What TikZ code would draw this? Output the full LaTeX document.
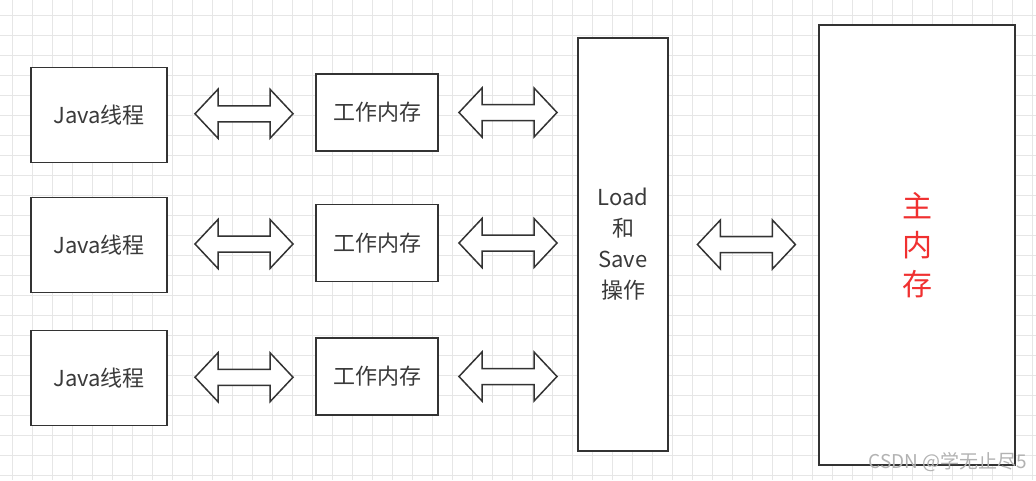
\documentclass[tikz,border=0pt]{standalone}
\usepackage{fontspec}
\setmainfont{Noto Sans CJK SC}
\usetikzlibrary{calc}
\definecolor{boxc}{HTML}{333333}
\definecolor{txtc}{HTML}{3A3A3A}
\definecolor{gridc}{HTML}{E6E6E6}
\definecolor{redc}{HTML}{F03030}
\begin{document}
\begin{tikzpicture}[x=1pt,y=-1pt,
  box/.style={draw=boxc, line width=1.8pt, fill=white, inner sep=0pt, align=center, text=txtc, font=\fontsize{22}{31}\selectfont},
  jbox/.style={box, minimum width=136pt, minimum height=95pt},
  wbox/.style={box, minimum width=122pt, minimum height=77pt},
  gridline/.style={draw=gridc, line width=0.8pt},
  pics/dblarr/.style={code={
    \draw[draw=boxc, line width=1.5pt, fill=white, line join=miter]
      (-49,0) -- (-26,-24.5) -- (-26,-8) -- (26,-8) -- (26,-24.5) -- (49,0)
      -- (26,24.5) -- (26,8) -- (-26,8) -- (-26,24.5) -- cycle;}}]
\useasboundingbox (0,0) rectangle (1036,480);
\fill[white] (0,0) rectangle (1036,480);
\foreach \x in {12,32,...,1032} \draw[gridline] (\x,0) -- (\x,480);
\foreach \y in {15,35,...,475} \draw[gridline] (0,\y) -- (1036,\y);
% Java threads
\node[jbox] (j1) at (99,115) {Java线程};
\node[jbox] (j2) at (99,245) {Java线程};
\node[jbox] (j3) at (99,378) {Java线程};
% working memory
\node[wbox] (w1) at (377,112.5) {工作内存};
\node[wbox] (w2) at (377,243) {工作内存};
\node[wbox] (w3) at (377,376.5) {工作内存};
% load/save
\node[box, minimum width=90pt, minimum height=413pt] (ls) at (623,244.5) {Load\\和\\Save\\操作};
% main memory
\node[box, line width=2.2pt, minimum width=196pt, minimum height=440pt, text=redc, font=\fontsize{30}{39}\selectfont] (mm) at (917,245) {主\\内\\存};
% arrow centres
\coordinate (a1) at ($(j1.east)!0.5!(w1.west)+(2.5,0)$);
\coordinate (a2) at ($(j2.east)!0.5!(w2.west)+(2.5,0)$);
\coordinate (a3) at ($(j3.east)!0.5!(w3.west)+(2.5,0)$);
\coordinate (b1) at ($(w1.east)!0.5!(ls.west |- w1.east)$);
\coordinate (b2) at ($(w2.east)!0.5!(ls.west |- w2.east)$);
\coordinate (b3) at ($(w3.east)!0.5!(ls.west |- w3.east)$);
\coordinate (c1) at ($(ls.east)!0.5!(mm.west |- ls.east)+(3,0)$);
\foreach \p in {a1,a2,a3,b1,b2,b3,c1} \pic at (\p) {dblarr};
% watermark
\node[text=gray!60, font=\fontsize{19}{22}\selectfont, anchor=east] (wm) at (1031,462) {CSDN @学无止尽5};
\end{tikzpicture}
\end{document}
